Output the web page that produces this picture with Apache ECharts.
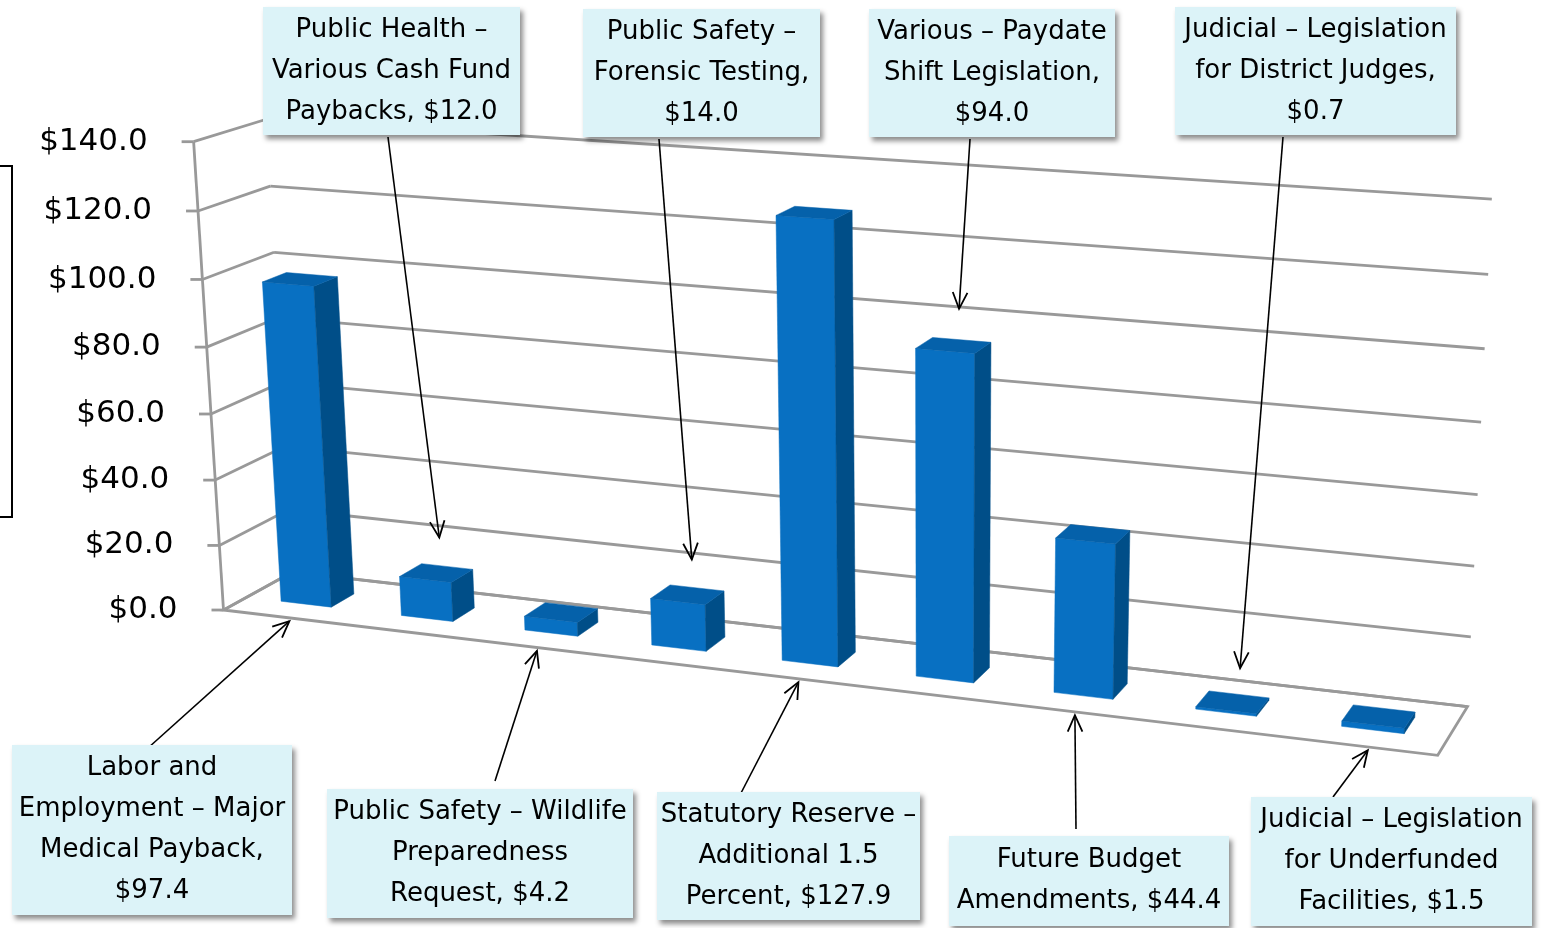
<!DOCTYPE html>
<html>
<head>
<meta charset="utf-8">
<script src="https://cdn.jsdelivr.net/npm/echarts@6/dist/echarts.min.js"></script>
<style>
  html, body { margin: 0; padding: 0; background: #fff; }
  #chart { width: 1545px; height: 928px; }
</style>
</head>
<body>
<div id="chart"></div>
<script>
// data
const categories = [
  "Labor and\nEmployment – Major\nMedical Payback",
  "Public Health –\nVarious Cash Fund\nPaybacks",
  "Public Safety – Wildlife\nPreparedness\nRequest",
  "Public Safety –\nForensic Testing",
  "Statutory Reserve –\nAdditional 1.5\nPercent",
  "Various – Paydate\nShift Legislation",
  "Future Budget\nAmendments",
  "Judicial – Legislation\nfor District Judges",
  "Judicial – Legislation\nfor Underfunded\nFacilities"
];
const values = [97.4, 12.0, 4.2, 14.0, 127.9, 94.0, 44.4, 0.7, 1.5];
const tickValues = [0, 20, 40, 60, 80, 100, 120, 140];
const tickLabels = ["$0.0", "$20.0", "$40.0", "$60.0", "$80.0", "$100.0", "$120.0", "$140.0"];
const valueOnNewLine = [true, false, false, true, false, true, false, true, false];

// callout boxes (position of box + where the arrow leaves it)
const callouts = [
  { x: 12, y: 745, w: 280, h: 170, ax: 148, ay: 748, side: "bottom" },
  { x: 263, y: 7, w: 257, h: 128, ax: 388, ay: 137, side: "top" },
  { x: 327, y: 789, w: 306, h: 129, ax: 495, ay: 781, side: "bottom" },
  { x: 583, y: 9, w: 237, h: 128, ax: 659, ay: 139, side: "top" },
  { x: 657, y: 792, w: 263, h: 128, ax: 740, ay: 795, side: "bottom" },
  { x: 869, y: 9, w: 246, h: 128, ax: 970, ay: 139, side: "top" },
  { x: 949, y: 836, w: 280, h: 90, ax: 1076, ay: 829, side: "bottom" },
  { x: 1175, y: 7, w: 281, h: 128, ax: 1283, ay: 137, side: "top" },
  { x: 1251, y: 797, w: 281, h: 129, ax: 1333, ay: 797, side: "bottom" }
];

// corners of the 3d plot box on screen: [u, v, w] -> [x, y]
const boxCorners = [
  [[0, 0, 0], [220, 610]],
  [[0, 1, 0], [197, 142]],
  [[0, 0, 1], [296, 572]],
  [[0, 1, 1], [263, 119]],
  [[1, 0, 1], [1467, 707]],
  [[1, 1, 1], [1492, 199]],
  [[1, 0, 0], [1438, 755]]
];

const gridColor = "#999999";
const faceFront = "#0870c2";
const faceSide = "#004e88";
const faceTop = "#0561aa";
const boxFill = "#dcf3f8";
const W0 = 0.33, W1 = 0.67, BAR = 0.42;

// fit a perspective camera to the box corners (least squares DLT)
function fitCamera(pts) {
  const rows = [], rhs = [];
  pts.forEach(([[X, Y, Z], [px, py]]) => {
    const x = px / 1000, y = py / 1000;
    rows.push([X, Y, Z, 1, 0, 0, 0, 0, -x * X, -x * Y, -x * Z]); rhs.push(x);
    rows.push([0, 0, 0, 0, X, Y, Z, 1, -y * X, -y * Y, -y * Z]); rhs.push(y);
  });
  const n = 11, A = [], b = [];
  for (let i = 0; i < n; i++) { A.push(new Array(n).fill(0)); b.push(0); }
  rows.forEach((r, k) => {
    for (let i = 0; i < n; i++) {
      b[i] += r[i] * rhs[k];
      for (let j = 0; j < n; j++) A[i][j] += r[i] * r[j];
    }
  });
  for (let c = 0; c < n; c++) {
    let piv = c;
    for (let r = c + 1; r < n; r++) if (Math.abs(A[r][c]) > Math.abs(A[piv][c])) piv = r;
    [A[c], A[piv]] = [A[piv], A[c]];
    [b[c], b[piv]] = [b[piv], b[c]];
    for (let r = 0; r < n; r++) {
      if (r === c) continue;
      const f = A[r][c] / A[c][c];
      for (let j = c; j < n; j++) A[r][j] -= f * A[c][j];
      b[r] -= f * b[c];
    }
  }
  return b.map((v, i) => v / A[i][i]);
}
const P = fitCamera(boxCorners);
function proj(u, v, w) {
  const d = P[8] * u + P[9] * v + P[10] * w + 1;
  return [
    1000 * (P[0] * u + P[1] * v + P[2] * w + P[3]) / d,
    1000 * (P[4] * u + P[5] * v + P[6] * w + P[7]) / d
  ];
}

// flat grid coords -> unit box coords
function toUnit(params, pt) {
  const cs = params.coordSys;
  return [(pt[0] - cs.x) / cs.width, (cs.y + cs.height - pt[1]) / cs.height];
}
function seg(a, b, color, width) {
  return { type: "line", shape: { x1: a[0], y1: a[1], x2: b[0], y2: b[1] },
    style: { stroke: color, lineWidth: width } };
}
function poly(points, fill) {
  return { type: "polygon", shape: { points: points }, style: { fill: fill, stroke: fill, lineWidth: 0.5 } };
}

function renderWalls(params, api) {
  const v = toUnit(params, api.coord([0, api.value(1)]))[1];
  const children = [];
  if (params.dataIndex === 0) {
    children.push({ type: "polygon",
      shape: { points: [proj(0, 0, 0), proj(1, 0, 0), proj(1, 0, 1), proj(0, 0, 1)] },
      style: { fill: "none", stroke: gridColor, lineWidth: 2.8 } });
    children.push(seg(proj(0, 0, 0), proj(0, 1, 0), gridColor, 2.8));
  }
  children.push(seg(proj(0, v, 1), proj(1, v, 1), gridColor, 2.8));
  children.push(seg(proj(0, v, 0), proj(0, v, 1), gridColor, 2.8));
  const f = proj(0, v, 0);
  children.push(seg([f[0] - 12, f[1]], f, gridColor, 2.8));
  children.push({ type: "text", x: f[0] - 46, y: f[1],
    style: { text: tickLabels[params.dataIndex], align: "right", verticalAlign: "middle",
      fontSize: 31, fontFamily: "DejaVu Sans", fill: "#000" } });
  return { type: "group", children: children };
}

function barGeom(params, api) {
  const i = api.value(0);
  const top = toUnit(params, api.coord([i, api.value(1)]));
  const base = toUnit(params, api.coord([i, 0]));
  const bw = api.size([1, 0])[0] / params.coordSys.width;
  return { uc: top[0], vt: top[1], vb: base[1], bw: bw };
}

function renderBars(params, api) {
  const g = barGeom(params, api);
  const u0 = g.uc - BAR / 2 * g.bw, u1 = g.uc + BAR / 2 * g.bw;
  return { type: "group", children: [
    poly([proj(u0, g.vb, W0), proj(u1, g.vb, W0), proj(u1, g.vt, W0), proj(u0, g.vt, W0)], faceFront),
    poly([proj(u1, g.vb, W0), proj(u1, g.vb, W1), proj(u1, g.vt, W1), proj(u1, g.vt, W0)], faceSide),
    poly([proj(u0, g.vt, W0), proj(u1, g.vt, W0), proj(u1, g.vt, W1), proj(u0, g.vt, W1)], faceTop)
  ] };
}

function renderCallouts(params, api) {
  const i = params.dataIndex;
  const c = callouts[i];
  const g = barGeom(params, api);
  let end;
  if (c.side === "top") {
    const p = proj(g.uc, g.vt, W0);
    end = [p[0] + 14, p[1] - 42];
  } else {
    const p = proj(g.uc, g.vb, 0);
    end = [p[0] + 6, p[1] + 4];
  }
  const dx = end[0] - c.ax, dy = end[1] - c.ay;
  const len = Math.sqrt(dx * dx + dy * dy);
  const ux = dx / len, uy = dy / len;
  const head = (ang) => {
    const ca = Math.cos(ang), sa = Math.sin(ang);
    return [end[0] - 18 * (ux * ca - uy * sa), end[1] - 18 * (ux * sa + uy * ca)];
  };
  const text = categories[i] + "," + (valueOnNewLine[i] ? "\n" : " ") + "$" + api.value(1).toFixed(1);
  return { type: "group", children: [
    seg([c.ax, c.ay], end, "#000", 1.6),
    { type: "polyline", shape: { points: [head(0.42), end, head(-0.42)] },
      style: { fill: "none", stroke: "#000", lineWidth: 1.8 } },
    { type: "rect", shape: { x: c.x, y: c.y, width: c.w, height: c.h },
      style: { fill: boxFill, shadowBlur: 5, shadowOffsetX: 3, shadowOffsetY: 4,
        shadowColor: "rgba(0,0,0,0.45)" } },
    { type: "text", x: c.x + c.w / 2, y: c.y + c.h / 2,
      style: { text: text, align: "center", verticalAlign: "middle", lineHeight: 41,
        fontSize: 26, fontFamily: "DejaVu Sans", fill: "#000" } }
  ] };
}

const myChart = echarts.init(document.getElementById("chart"));
const option = {
  animation: false,
  backgroundColor: "#fff",
  grid: { left: 220, top: 142, width: 1218, height: 468 },
  xAxis: { type: "category", data: categories, show: false },
  yAxis: { type: "value", min: 0, max: 140, interval: 20, show: false },
  graphic: [
    { type: "rect", shape: { x: -10, y: 166, width: 22, height: 351 },
      style: { fill: "none", stroke: "#000", lineWidth: 2 } }
  ],
  series: [
    { type: "custom", z: 1, clip: false, renderItem: renderWalls,
      data: tickValues.map(t => [0, t]) },
    { type: "custom", z: 2, clip: false, renderItem: renderBars,
      data: values.map((v, i) => [i, v]) },
    { type: "custom", z: 3, clip: false, renderItem: renderCallouts,
      data: values.map((v, i) => [i, v]) }
  ]
};
myChart.setOption(option);
window.addEventListener("resize", () => {
  myChart.resize();
});
</script>
</body>
</html>
